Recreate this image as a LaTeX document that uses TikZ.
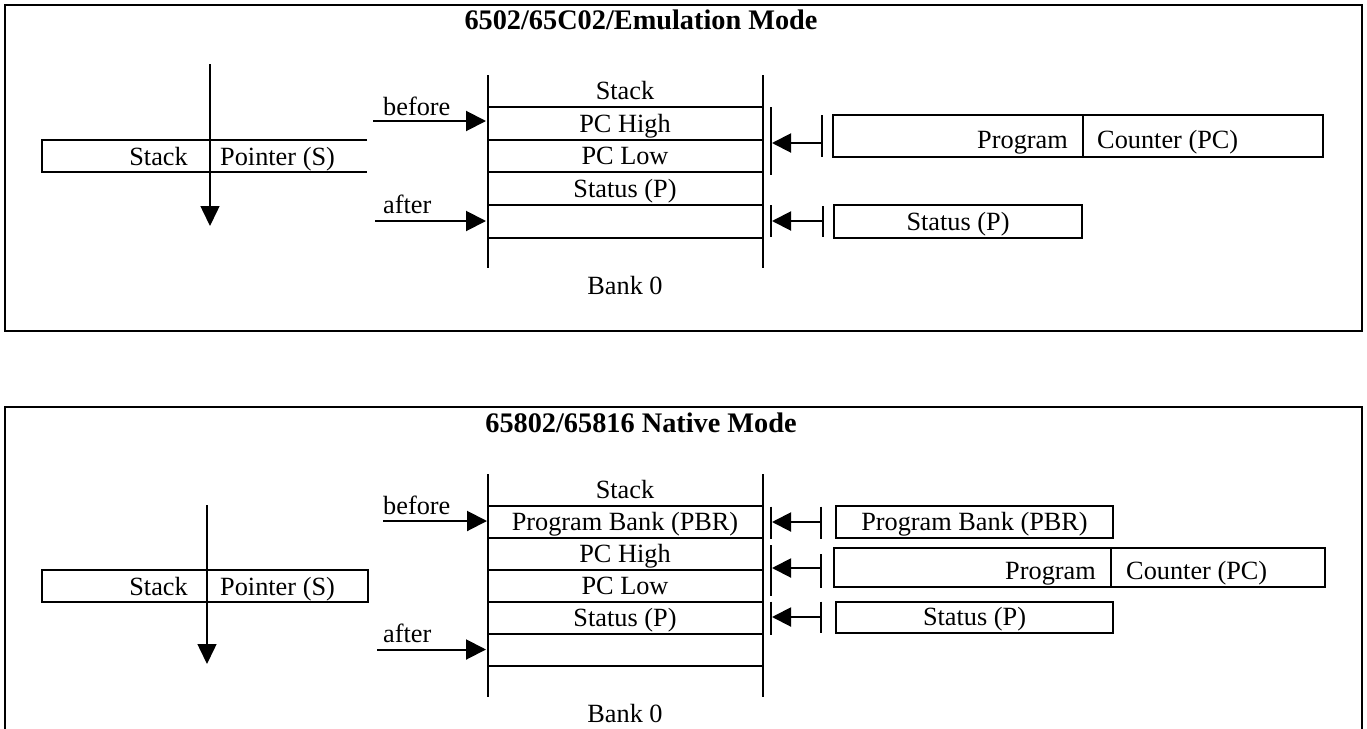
\documentclass[tikz,border=0pt]{standalone}
\usepackage{fontspec}
\setmainfont{Liberation Serif}
\usetikzlibrary{arrows.meta}
\begin{document}
\begin{tikzpicture}[x=1pt,y=-1pt,
  txt/.style={inner sep=0pt,anchor=base,font=\fontsize{26.3}{30}\selectfont},
  ttl/.style={inner sep=0pt,anchor=base,font=\fontsize{28.3}{32}\selectfont\bfseries},
  frame/.style={line width=2pt},
  col/.style={line width=2pt},
  bx/.style={line width=2pt},
  thinl/.style={line width=1.2pt},
  bar/.style={line width=1.5pt},
  bigarr/.style={line width=2pt,-{Triangle[length=20pt,width=20pt]}},
  dnarr/.style={line width=1.5pt,-{Triangle[length=20pt,width=19pt]}},
  smarr/.style={line width=2pt,-{Triangle[length=19pt,width=19pt]}},
]
\useasboundingbox (0,0) rectangle (1367,728);

% ================= TOP PANEL =================
\draw[frame] (5,5) rectangle (1362,331);
\node[ttl] (t1) at (641,29.5) {6502/65C02/Emulation Mode};

% stack pointer
\draw[bx] (367,139.5) -- (42,139.5) -- (42,171.5) -- (367,171.5);
\node[txt,anchor=base east] (sk1) at (188,165) {Stack};
\node[txt,anchor=base west] (sp1) at (220,165) {Pointer (S)};
\coordinate (sa1) at (210,64);
\coordinate (sb1) at (210,226);
\draw[dnarr] (sa1) -- (sb1);

% stack column
\draw[col] (487.5,75) -- (487.5,268);
\draw[col] (762.5,75) -- (762.5,268);
\foreach \yy in {107,140,172,205,238}{\draw[col] (487.5,\yy) -- (762.5,\yy);}
\node[txt] (c1a) at (625,99.5) {Stack};
\node[txt] (c1b) at (625,132.5) {PC High};
\node[txt] (c1c) at (625,164.5) {PC Low};
\node[txt] (c1d) at (625,197.5) {Status (P)};
\node[txt] (bk1) at (625,294) {Bank 0};

\node[txt,anchor=base west] (bf1) at (383,115) {before};
\node[txt,anchor=base west] (af1) at (383,213) {after};
\coordinate (bfs1) at (373,121); \coordinate (bfe1) at (486,121);
\coordinate (afs1) at (375,221); \coordinate (afe1) at (486,221);
\draw[bigarr] (bfs1) -- (bfe1);
\draw[bigarr] (afs1) -- (afe1);

% right side, PC
\draw[bar] (771,107) -- (771,175);
\draw[bar] (822,115) -- (822,157);
\coordinate (pcs1) at (822,143); \coordinate (pce1) at (772,143);
\draw[smarr] (pcs1) -- (pce1);
\draw[bx] (833,115) rectangle (1323,156.5);
\draw[thinl] (1083,115) -- (1083,156.5);
\node[txt,anchor=base east] (pg1) at (1068,148) {Program};
\node[txt,anchor=base west] (ct1) at (1097,148) {Counter (PC)};

% right side, status
\draw[bar] (771,205) -- (771,237);
\draw[bar] (823,206) -- (823,237);
\coordinate (sts1) at (823,221); \coordinate (ste1) at (772,221);
\draw[smarr] (sts1) -- (ste1);
\draw[bx] (834,205) rectangle (1082,238);
\node[txt] (st1) at (958,230) {Status (P)};

% ================= BOTTOM PANEL =================
\draw[frame] (5,730) -- (5,406.5) -- (1362,406.5) -- (1362,730);
\node[ttl] (t2) at (641,432) {65802/65816 Native Mode};

% stack pointer
\draw[bx] (42,570) rectangle (368,601.7);
\node[txt,anchor=base east] (sk2) at (188,595.5) {Stack};
\node[txt,anchor=base west] (sp2) at (220,595.5) {Pointer (S)};
\coordinate (sa2) at (207,505);
\coordinate (sb2) at (207,664);
\draw[dnarr] (sa2) -- (sb2);

% stack column
\draw[col] (487.5,474) -- (487.5,697);
\draw[col] (762.5,474) -- (762.5,697);
\foreach \yy in {506,538,569.5,602,633.5,666}{\draw[col] (487.5,\yy) -- (762.5,\yy);}
\node[txt] (c2a) at (625,498.5) {Stack};
\node[txt] (c2b) at (625,530.5) {Program Bank (PBR)};
\node[txt] (c2c) at (625,562) {PC High};
\node[txt] (c2d) at (625,594.5) {PC Low};
\node[txt] (c2e) at (625,626) {Status (P)};
\node[txt] (bk2) at (625,722.5) {Bank 0};

\node[txt,anchor=base west] (bf2) at (383,514) {before};
\node[txt,anchor=base west] (af2) at (383,642) {after};
\coordinate (bfs2) at (383,521); \coordinate (bfe2) at (487,521);
\coordinate (afs2) at (377,649.5); \coordinate (afe2) at (486,649.5);
\draw[bigarr] (bfs2) -- (bfe2);
\draw[bigarr] (afs2) -- (afe2);

% right side, PBR
\draw[bar] (771,506.7) -- (771,539);
\draw[bar] (821,506.7) -- (821,539);
\coordinate (pbs2) at (821,522); \coordinate (pbe2) at (772,522);
\draw[smarr] (pbs2) -- (pbe2);
\draw[bx] (836,506) rectangle (1113,538);
\node[txt] (pb2) at (974.5,530) {Program Bank (PBR)};

% right side, PC
\draw[bar] (771,545) -- (771,596);
\draw[bar] (821,554) -- (821,588);
\coordinate (pcs2) at (821,568); \coordinate (pce2) at (772,568);
\draw[smarr] (pcs2) -- (pce2);
\draw[bx] (834,548) rectangle (1325,587);
\draw[thinl] (1111,548) -- (1111,587);
\node[txt,anchor=base east] (pg2) at (1096,579) {Program};
\node[txt,anchor=base west] (ct2) at (1126,579) {Counter (PC)};

% right side, status
\draw[bar] (771,601.5) -- (771,635);
\draw[bar] (821,601.7) -- (821,633);
\coordinate (sts2) at (821,617); \coordinate (ste2) at (772,617);
\draw[smarr] (sts2) -- (ste2);
\draw[bx] (836,601.7) rectangle (1113,633.3);
\node[txt] (st2) at (974.5,625.5) {Status (P)};
\end{tikzpicture}
\end{document}
